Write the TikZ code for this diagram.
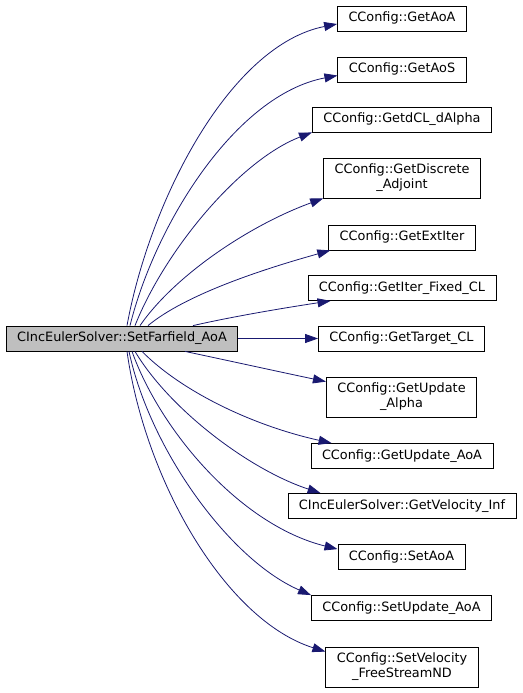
\documentclass[tikz,border=0pt]{standalone}
\usepackage{fontspec}
\setmainfont{DejaVu Sans}
\usetikzlibrary{arrows.meta, positioning}
\definecolor{edgeblue}{RGB}{25, 25, 112}
\definecolor{mainfill}{RGB}{191, 191, 191}

\begin{document}
\begin{tikzpicture}[
  x=1bp, y=-1bp,
  fn/.style={draw=black, fill=white, line width=0.8bp, inner xsep=11bp, inner ysep=6.25bp, align=center,
    text height=9.5bp, text depth=3bp, font=\fontsize{12.9}{15}\selectfont},
  fntwo/.style={fn, text height=24.5bp},
  mainfn/.style={fn, fill=mainfill},
  call/.style={draw=edgeblue, line width=0.8bp, -{Triangle[length=13bp, width=9bp]}, color=edgeblue}
]
  \useasboundingbox (0,0) rectangle (523,693);

  \node[mainfn] (setfar) at (122, 338.5) {CIncEulerSolver::SetFarfield\_AoA};

  \node[fn] (getaoa)    at (402, 18.5) {CConfig::GetAoA};
  \node[fn] (getaos)    at (402, 69.5) {CConfig::GetAoS};
  \node[fn] (getdcl)    at (402, 119.5) {CConfig::GetdCL\_dAlpha};
  \node[fntwo] (getdisc)   at (402, 178) {CConfig::GetDiscrete\\\_Adjoint};
  \node[fn] (getext)    at (402, 237.5) {CConfig::GetExtIter};
  \node[fn] (getiter)   at (402, 288) {CConfig::GetIter\_Fixed\_CL};
  \node[fn] (gettarget) at (401.5, 338.5) {CConfig::GetTarget\_CL};
  \node[fntwo] (getupalpha) at (401.5, 397) {CConfig::GetUpdate\\\_Alpha};
  \node[fn] (getupaoa)  at (402, 456) {CConfig::GetUpdate\_AoA};
  \node[fn] (getvel)    at (402, 506) {CIncEulerSolver::GetVelocity\_Inf};
  \node[fn] (setaoa)    at (401.5, 557) {CConfig::SetAoA};
  \node[fn] (setupaoa)  at (401.5, 608) {CConfig::SetUpdate\_AoA};
  \node[fntwo] (setvel)    at (402, 667) {CConfig::SetVelocity\\\_FreeStreamND};

  % calls leaving the top side
  \draw[call] ([xshift=5bp]setfar.north) .. controls (150,200) and (230,45) .. ([yshift=-5.5bp]getaoa.west);
  \draw[call] ([xshift=8bp]setfar.north) .. controls (155,225) and (235,95) .. ([yshift=-6bp]getaos.west);
  \draw[call] ([xshift=13bp]setfar.north) .. controls (165,250) and (240,160) .. (getdcl.south west);
  \draw[call] ([xshift=18bp]setfar.north) .. controls (175,275) and (250,225) .. (getdisc.south west);
  \draw[call] ([xshift=26bp]setfar.north) .. controls (185,295) and (260,270) .. ([xshift=2bp]getext.south west);
  \draw[call] ([xshift=71bp]setfar.north) .. controls (235,316) and (290,307) .. ([xshift=23bp]getiter.south west);
  \draw[call] (setfar.east) -- (gettarget.west);
  % calls leaving the bottom side
  \draw[call] ([xshift=63bp]setfar.south) .. controls (230,361) and (285,373) .. ([yshift=-5bp]getupalpha.north west);
  \draw[call] ([xshift=20bp]setfar.south) .. controls (180,390) and (250,425) .. ([xshift=21bp]getupaoa.north west);
  \draw[call] ([xshift=13bp]setfar.south) .. controls (170,410) and (250,470) .. ([xshift=33bp]getvel.north west);
  \draw[call] ([xshift=10bp]setfar.south) .. controls (160,430) and (240,525) .. ([yshift=-5bp]setaoa.north west);
  \draw[call] ([xshift=7bp]setfar.south) .. controls (150,450) and (230,560) .. (setupaoa.north west);
  \draw[call] ([xshift=5bp]setfar.south) .. controls (145,480) and (225,620) .. ([yshift=-5bp]setvel.north west);
\end{tikzpicture}
\end{document}
